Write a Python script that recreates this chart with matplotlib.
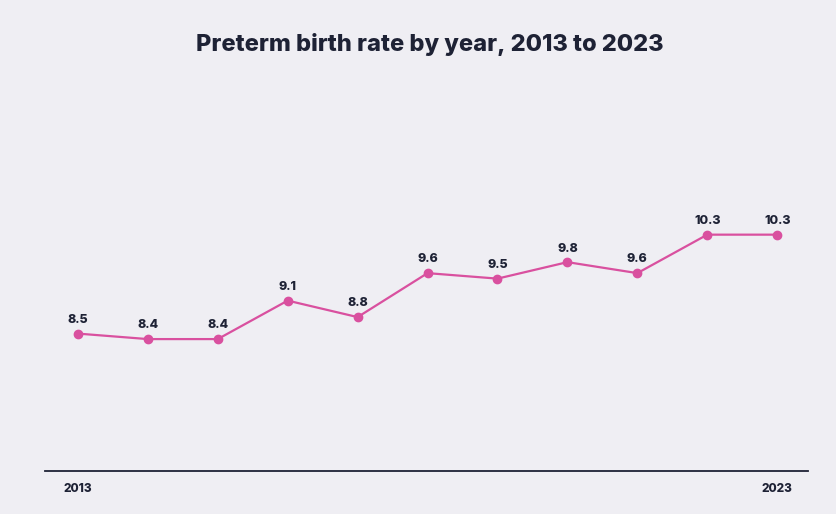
import matplotlib
matplotlib.use("Agg")
import matplotlib.pyplot as plt

years = [2013, 2014, 2015, 2016, 2017, 2018, 2019, 2020, 2021, 2022, 2023]
rates = [8.5, 8.4, 8.4, 9.1, 8.8, 9.6, 9.5, 9.8, 9.6, 10.3, 10.3]
tick_years = [2013, 2023]
title = "Preterm birth rate by year, 2013 to 2023"

bg = "#efeef3"
pink = "#d9509f"
dark = "#1e2235"

fig = plt.figure(figsize=(8.37, 5.14), dpi=100, facecolor=bg)
W, H = 837, 514
ax = fig.add_axes([45 / W, 1 - 471 / H, (808 - 45) / W, (471 - 100) / H])
ax.set_facecolor(bg)
ax.plot(years, rates, color=pink, lw=1.6, marker="o", ms=6, mec=pink, mfc=pink, zorder=3)
for x, y in zip(years, rates):
    ax.annotate(f"{y:g}", (x, y), xytext=(0, 5.5), textcoords="offset points",
                ha="center", va="bottom", fontsize=9, fontweight="heavy", color=dark,
                family="Inter")
ax.set_xlim(2012.53, 2023.44)
ax.set_ylim(6.0, 12.75)
for s in ["top", "right", "left"]:
    ax.spines[s].set_visible(False)
ax.spines["bottom"].set_color(dark)
ax.spines["bottom"].set_linewidth(1.3)
ax.set_yticks([])
ax.set_xticks(tick_years)
ax.set_xticklabels([str(t) for t in tick_years], fontsize=8.5, fontweight="heavy", color=dark, family="Inter")
ax.tick_params(axis="x", length=0, pad=9)
fig.text(430 / W, 1 - 44 / H, title, ha="center", va="center", fontsize=17,
         fontweight="heavy", color=dark, family="Inter")
fig.savefig("out.png", dpi=100, facecolor=bg)
